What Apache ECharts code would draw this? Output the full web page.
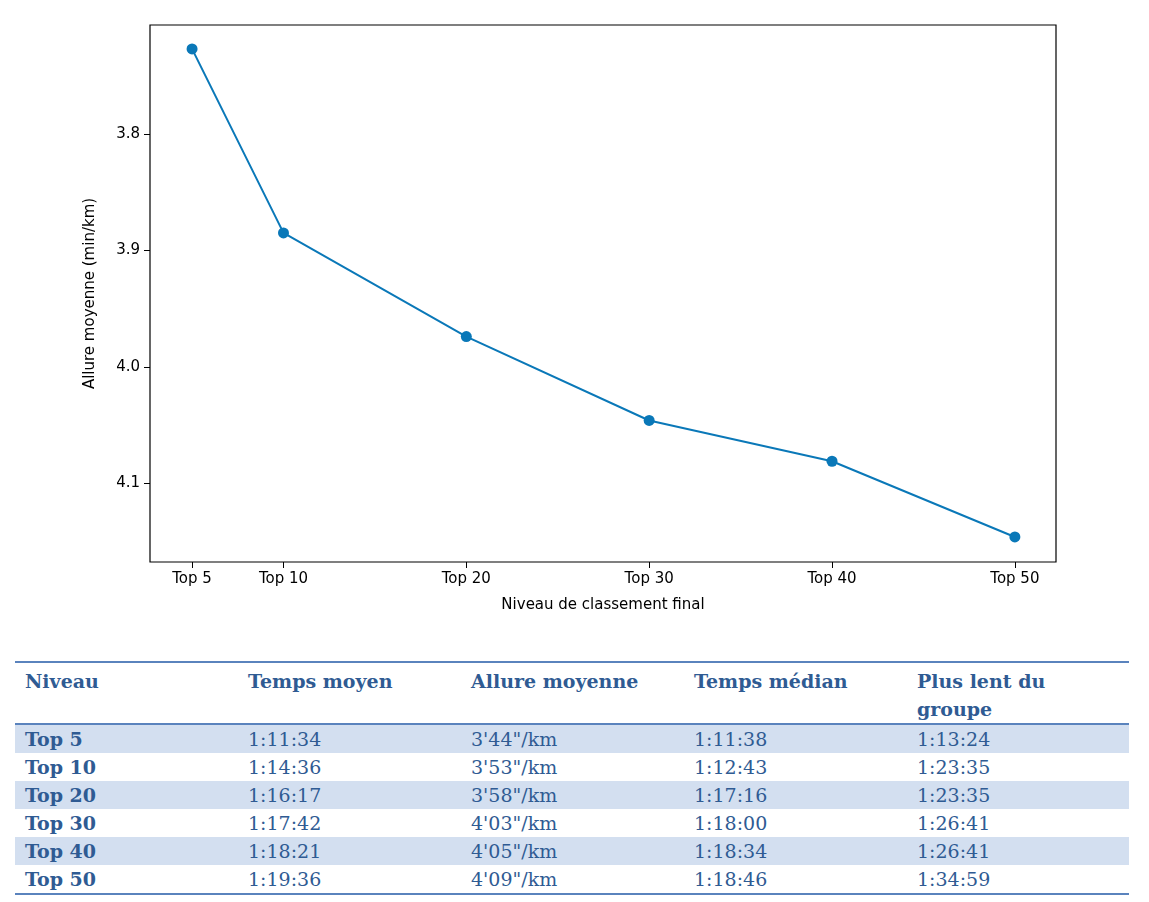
<!DOCTYPE html>
<html>
<head>
<meta charset="utf-8">
<script src="https://cdn.jsdelivr.net/npm/echarts@6/dist/echarts.min.js"></script>
<style>
body{margin:0;background:#fff;}
#chart{position:absolute;left:0;top:0;width:1149px;height:620px;}
table{position:absolute;left:15px;top:661px;width:1114px;border-collapse:collapse;font-family:"DejaVu Serif",serif;font-size:19px;color:#2f5b93;}
th{font-weight:bold;text-align:left;vertical-align:top;padding:4px 10px 0 10px;line-height:28px;}
td{padding:0 10px;height:28px;line-height:28px;}
td:first-child{font-weight:bold;}
tr.h{border-top:2px solid #5a83bd;border-bottom:2px solid #5a83bd;}
tr.s{background:#d3dff0;}
tr.last{border-bottom:2px solid #5a83bd;}
</style>
</head>
<body>
<div id="chart"></div>
<table>
<tr class="h"><th style="width:203px">Niveau</th><th style="width:203px">Temps moyen</th><th style="width:203px">Allure moyenne</th><th style="width:203px">Temps médian</th><th>Plus lent du<br>groupe</th></tr>
<tr class="s"><td>Top 5</td><td>1:11:34</td><td>3'44"/km</td><td>1:11:38</td><td>1:13:24</td></tr>
<tr><td>Top 10</td><td>1:14:36</td><td>3'53"/km</td><td>1:12:43</td><td>1:23:35</td></tr>
<tr class="s"><td>Top 20</td><td>1:16:17</td><td>3'58"/km</td><td>1:17:16</td><td>1:23:35</td></tr>
<tr><td>Top 30</td><td>1:17:42</td><td>4'03"/km</td><td>1:18:00</td><td>1:26:41</td></tr>
<tr class="s"><td>Top 40</td><td>1:18:21</td><td>4'05"/km</td><td>1:18:34</td><td>1:26:41</td></tr>
<tr class="last"><td>Top 50</td><td>1:19:36</td><td>4'09"/km</td><td>1:18:46</td><td>1:34:59</td></tr>
</table>
<script>
var levels = [5, 10, 20, 30, 40, 50];
var pace = [3.727, 3.885, 3.974, 4.046, 4.081, 4.146];
var yTicks = [3.8, 3.9, 4.0, 4.1];

var chart = echarts.init(document.getElementById('chart'));
var font = {fontFamily: 'DejaVu Sans', fontSize: 15, color: '#000'};
chart.setOption({
	animation: false,
	grid: {left: 150, top: 25, width: 906, height: 537, show: true, borderColor: '#000', borderWidth: 1.2},
	xAxis: {
		type: 'value', min: 2.7, max: 52.25,
		name: 'Niveau de classement final', nameLocation: 'middle', nameGap: 36,
		nameTextStyle: font,
		axisLine: {show: false}, splitLine: {show: false},
		axisTick: {show: true, customValues: levels, length: 6, lineStyle: {color: '#000'}},
		axisLabel: Object.assign({customValues: levels, margin: 10, formatter: function(v){ return 'Top ' + v; }}, font)
	},
	yAxis: {
		type: 'value', inverse: true, min: 3.7065, max: 4.1675,
		name: 'Allure moyenne (min/km)', nameLocation: 'middle', nameGap: 52,
		nameTextStyle: font,
		axisLine: {show: false}, splitLine: {show: false},
		axisTick: {show: true, customValues: yTicks, length: 6, lineStyle: {color: '#000'}},
		axisLabel: Object.assign({customValues: yTicks, margin: 10, formatter: function(v){ return v.toFixed(1); }}, font)
	},
	series: [{
		type: 'line',
		data: levels.map(function(l, i){ return [l, pace[i]]; }),
		symbol: 'circle', symbolSize: 11,
		lineStyle: {color: '#0a78b8', width: 2},
		itemStyle: {color: '#0a78b8'}
	}]
});
</script>
</body>
</html>
